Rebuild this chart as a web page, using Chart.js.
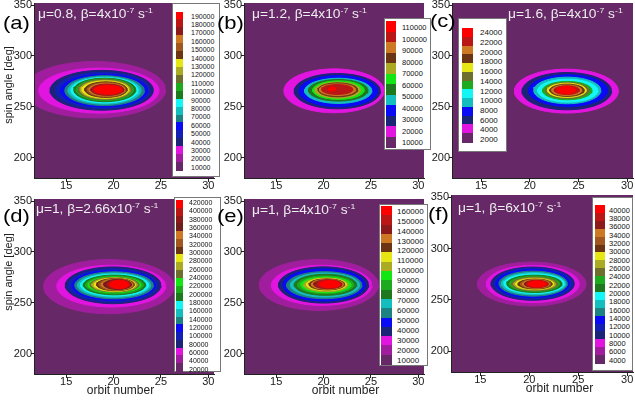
<!DOCTYPE html>
<html>
<head>
<meta charset="utf-8">
<script src="https://cdn.jsdelivr.net/npm/chart.js@4.4.0/dist/chart.umd.min.js"></script>
<style>
  body { margin: 0; background: #fff; width: 635px; height: 401px; overflow: hidden; position: relative;
         font-family: "Liberation Sans", Arial, sans-serif; }
  canvas { position: absolute; }
  .tag { position: absolute; font-size: 19px; line-height: 19px; color: #000; transform: scaleX(1.16); transform-origin: left top; z-index: 3; }
  .ttl { position: absolute; font-size: 12.5px; line-height: 14px; color: #eee; white-space: nowrap; transform: scaleX(1.1); transform-origin: left top; z-index: 3; }
  .ttl sup { font-size: 8px; line-height: 0; vertical-align: 5px; }
  .leg { position: absolute; background: #fff; border: 1px solid #777; box-sizing: border-box; z-index: 2; }
  .sw { position: absolute; }
  .lv { position: absolute; line-height: 1; color: #111; transform: translateY(-50%); white-space: nowrap; }
  .axt { position: absolute; font-size: 12px; color: #222; white-space: nowrap; z-index: 3; }
</style>
</head>
<body>
<script>
const FONT = '"Liberation Sans", Arial, sans-serif';

// contour levels shown in each legend (top to bottom)
const levelsA = [190000, 180000, 170000, 160000, 150000, 140000, 130000, 120000, 110000, 100000, 90000, 80000, 70000, 60000, 50000, 40000, 30000, 20000, 10000];
const levelsB = [110000, 100000, 90000, 80000, 70000, 60000, 50000, 40000, 30000, 20000, 10000];
const levelsC = [24000, 22000, 20000, 18000, 16000, 14000, 12000, 10000, 8000, 6000, 4000, 2000];
const levelsD = [420000, 400000, 380000, 360000, 340000, 320000, 300000, 280000, 260000, 240000, 220000, 200000, 180000, 160000, 140000, 120000, 100000, 80000, 60000, 40000, 20000];
const levelsE = [160000, 150000, 140000, 130000, 120000, 110000, 100000, 90000, 80000, 70000, 60000, 50000, 40000, 30000, 20000, 10000];
const levelsF = [40000, 38000, 36000, 34000, 32000, 30000, 28000, 26000, 24000, 22000, 20000, 18000, 16000, 14000, 12000, 10000, 8000, 6000, 4000];

// contour rings, outermost first: [orbit left, orbit right, spin angle low, spin angle high]
const ringsA = [
  [10.5, 25.5, 239.0, 294.5], [12.1, 24.8, 243.8, 288.0], [13.3, 24.2, 246.6, 285.8], [13.85, 23.9, 248.3, 283.8],
  [14.4, 23.6, 249.8, 282.0], [14.85, 23.25, 251.2, 280.5], [15.2, 22.9, 252.6, 279.5], [15.5, 22.6, 253.8, 278.8],
  [15.8, 22.35, 255.0, 278.1], [16.05, 22.1, 256.0, 277.4], [16.25, 21.9, 257.0, 276.7], [16.45, 21.75, 257.8, 276.0],
  [16.65, 21.6, 258.5, 275.3], [16.95, 21.45, 259.2, 274.5], [17.2, 21.3, 259.9, 273.7], [17.4, 21.2, 260.6, 273.0],
  [17.6, 21.1, 261.2, 272.3], [17.75, 21.0, 261.8, 271.7], [17.95, 20.9, 262.4, 271.1]
];
const ringsB = [
  [15.8, 26.4, 244.1, 287.3], [16.9, 26.0, 248.0, 282.7], [17.4, 25.7, 250.0, 280.7], [18.0, 25.1, 253.3, 278.0],
  [18.4, 24.7, 255.6, 276.8], [18.85, 24.3, 257.2, 275.5], [19.1, 23.9, 258.5, 274.2], [19.4, 23.6, 259.8, 273.5],
  [19.55, 23.4, 261.1, 272.5], [19.8, 23.1, 262.1, 271.9], [20.5, 21.3, 265.5, 269.5]
];
const ringsC = [
  [18.4, 29.1, 243.8, 287.0], [19.2, 28.4, 247.0, 283.7], [19.85, 28.0, 250.3, 281.4], [20.4, 27.3, 253.0, 279.1],
  [20.8, 27.0, 254.6, 277.1], [21.3, 26.4, 256.9, 274.9], [21.6, 26.1, 258.2, 273.9], [21.8, 25.8, 259.2, 273.2],
  [22.05, 25.6, 260.2, 272.2], [22.25, 25.35, 261.1, 271.3], [22.5, 25.1, 262.1, 270.6], [22.8, 24.7, 262.8, 270.0]
];
const ringsD = [
  [12.6, 26.4, 239.2, 292.5], [14.0, 25.5, 245.8, 286.9], [14.9, 25.0, 249.1, 285.2], [15.2, 24.7, 250.7, 283.4],
  [15.6, 24.4, 252.4, 281.8], [15.9, 24.2, 253.9, 280.4], [16.2, 23.9, 255.3, 279.2], [16.5, 23.7, 256.6, 278.2],
  [16.8, 23.4, 257.8, 277.2], [17.05, 23.15, 258.9, 276.2], [17.3, 22.9, 259.9, 275.4], [17.5, 22.7, 260.6, 274.9],
  [17.7, 22.5, 261.0, 274.5], [17.95, 22.3, 261.4, 274.1], [18.2, 22.2, 261.9, 273.8], [18.45, 22.1, 262.3, 273.5],
  [18.7, 22.0, 262.7, 273.2], [18.95, 21.9, 263.1, 272.9], [19.2, 21.8, 263.5, 272.6], [19.4, 21.7, 263.8, 272.3],
  [19.6, 21.6, 264.1, 272.0]
];
const ringsE = [
  [13.2, 25.8, 242.5, 292.5], [14.5, 25.1, 247.4, 286.9], [15.25, 24.75, 249.7, 285.3], [15.7, 24.4, 251.7, 283.3],
  [16.1, 24.05, 254.0, 280.6], [16.5, 23.8, 255.6, 279.3], [16.9, 23.5, 257.3, 278.0], [17.25, 23.2, 258.9, 276.4],
  [17.6, 22.9, 259.9, 275.4], [17.9, 22.6, 260.9, 274.4], [18.2, 22.4, 262.0, 274.0], [18.45, 22.25, 262.6, 273.5],
  [18.7, 22.1, 263.2, 273.0], [18.95, 21.95, 263.8, 272.6], [19.25, 21.85, 264.3, 272.2], [19.6, 21.75, 264.8, 271.8]
];
const ringsF = [
  [14.7, 25.8, 244.1, 286.9], [15.6, 25.1, 247.4, 283.6], [16.1, 24.6, 249.7, 282.0], [16.4, 24.4, 250.7, 281.0],
  [16.6, 24.1, 252.3, 279.7], [16.9, 23.9, 253.7, 278.0], [17.15, 23.75, 255.0, 276.7], [17.4, 23.6, 256.3, 275.4],
  [17.7, 23.35, 257.3, 274.1], [17.95, 23.1, 258.3, 273.1], [18.2, 22.9, 258.9, 272.1], [18.4, 22.7, 259.6, 271.4],
  [18.6, 22.5, 260.2, 270.8], [18.85, 22.35, 260.7, 270.3], [19.1, 22.2, 261.2, 269.9], [19.3, 22.05, 261.6, 269.5],
  [19.5, 21.95, 262.0, 269.1], [19.7, 21.85, 262.3, 268.8], [19.9, 21.75, 262.6, 268.5]
];

const muValues = ['0.8', '1.2', '1.6', '1', '1', '1'];
const betaValues = ['4', '4', '4', '2.66', '4', '6'];
const panelTags = ['(a)', '(b)', '(c)', '(d)', '(e)', '(f)'];

// tecplot-like palette
const P = {
  dpurple: '#662866', purple: '#A01E9E', magenta: '#E214E0', navy: '#1C2478', mblue: '#1420B4', blue: '#0A0AF5',
  dteal: '#1E8282', teal: '#14BEBE', cyan: '#14F5F5', dgreen: '#1E781E', green: '#1EAA1E', bgreen: '#14E614',
  dolive: '#6E6E2D', olive: '#AAAA23', yellow: '#E6E614', dbrown: '#6B3514', brown: '#A0581E', orange: '#CD7823',
  dmaroon: '#6E1E1E', maroon: '#8C1A1A', dred: '#BA1616', red: '#FF0000'
};
const colorsA = [P.dpurple, P.purple, P.magenta, P.navy, P.mblue, P.blue, P.dteal, P.teal, P.cyan, P.dgreen, P.green,
  P.dolive, P.olive, P.yellow, P.dbrown, P.brown, P.orange, P.maroon, P.dred, P.red];
const colorsB = [P.dpurple, P.magenta, P.navy, P.blue, P.teal, P.dgreen, P.bgreen, P.olive, P.dbrown, P.orange, P.dred, P.red];
const colorsC = [P.dpurple, P.magenta, P.navy, P.blue, P.teal, P.cyan, P.green, P.dolive, P.yellow, P.dbrown, P.orange, P.dred, P.red];
const colorsD = [P.dpurple, P.purple, P.magenta, P.navy, P.mblue, P.blue, P.dteal, P.teal, P.cyan, P.dgreen, P.green, P.bgreen,
  P.dolive, P.olive, P.yellow, P.dbrown, P.brown, P.orange, P.dmaroon, P.maroon, P.dred, P.red];
const colorsE = [P.dpurple, P.purple, P.magenta, P.navy, P.blue, P.dteal, P.teal, P.dgreen, P.green, P.bgreen, P.olive,
  P.yellow, P.dbrown, P.orange, P.maroon, P.dred, P.red];
const colorsF = colorsA;

// layout: plot rect [left, top, right, bottom], legend box / swatch column / label column
const panels = [
  { levels: levelsA, rings: ringsA, colors: colorsA, xMin: 11.6, plot: [34, 3, 214, 178], xH: 22,
    box: [172, 3, 48, 174], sw: [176, 7, 11.5, 170], lab: [191, 15.7, 166.7, 7], title: [38, 7], tag: [3, 12.7] },
  { levels: levelsB, rings: ringsB, colors: colorsB, xMin: 11.6, plot: [244, 3, 424, 178], xH: 22,
    box: [384, 18, 47, 132], sw: [386, 10, 21, 147], lab: [402, 28.3, 143.3, 7.5], title: [252, 7], tag: [216.7, 12.7] },
  { levels: levelsC, rings: ringsC, colors: colorsC, xMin: 12, plot: [452, 3, 633, 178], xH: 22,
    box: [458, 18, 49, 134], sw: [462, 11, 28, 142], lab: [480, 33.3, 140, 8], title: [508, 7], tag: [430, 11] },
  { levels: levelsD, rings: ringsD, colors: colorsD, xMin: 11.6, plot: [34, 199, 214, 374], xH: 27,
    box: [174, 197, 47, 175], sw: [176, 7, 200, 371], lab: [189, 202, 368.5, 7], title: [36, 202], tag: [3, 206] },
  { levels: levelsE, rings: ringsE, colors: colorsE, xMin: 11.6, plot: [244, 199, 424, 374], xH: 27,
    box: [379, 204, 49, 162], sw: [381, 11, 206, 364], lab: [397, 211.7, 360.7, 8], title: [252, 202.7], tag: [216.7, 206] },
  { levels: levelsF, rings: ringsF, colors: colorsF, xMin: 12, plot: [451, 195, 633, 372], xH: 29,
    box: [592, 197, 41, 174], sw: [595, 10, 205, 363], lab: [609, 210.7, 360.7, 7.5], title: [458, 201], tag: [428, 204.4] }
];

function ringPoints(r) {
  const cx = (r[0] + r[1]) / 2, cy = (r[2] + r[3]) / 2;
  const rx = (r[1] - r[0]) / 2, ry = (r[3] - r[2]) / 2;
  const pts = [];
  for (let k = 0; k <= 48; k++) {
    const t = 2 * Math.PI * k / 48;
    pts.push({ x: cx + rx * Math.cos(t), y: cy + ry * Math.sin(t) });
  }
  return pts;
}

const plotBg = {
  id: 'plotBg',
  beforeDatasetsDraw(chart, args, opts) {
    const { ctx, chartArea: a } = chart;
    ctx.save();
    ctx.fillStyle = opts.color;
    ctx.fillRect(a.left, a.top, a.width, a.height);
    ctx.restore();
  }
};

function addDiv(cls, html, left, top) {
  const d = document.createElement('div');
  d.className = cls;
  d.innerHTML = html;
  d.style.left = left + 'px';
  d.style.top = top + 'px';
  document.body.appendChild(d);
  return d;
}

panels.forEach((p, n) => {
  const [L, T, R, B] = p.plot;
  const cv = document.createElement('canvas');
  cv.width = R - L + 34 + 8;
  cv.height = B - T + 8 + p.xH;
  cv.style.left = (L - 34) + 'px';
  cv.style.top = (T - 8) + 'px';
  document.body.appendChild(cv);

  new Chart(cv, {
    type: 'scatter',
    data: {
      datasets: p.rings.map((r, i) => ({
        data: ringPoints(r),
        showLine: true,
        pointRadius: 0,
        borderWidth: 1,
        borderColor: p.colors[i + 1],
        backgroundColor: p.colors[i + 1],
        fill: 'shape',
        tension: 0,
        order: p.rings.length - i
      }))
    },
    options: {
      responsive: false,
      animation: false,
      devicePixelRatio: 1,
      events: [],
      layout: { padding: { top: 8, right: 8, left: 0, bottom: 0 } },
      plugins: {
        legend: { display: false },
        tooltip: { enabled: false },
        plotBg: { color: p.colors[0] }
      },
      scales: {
        x: {
          type: 'linear', min: p.xMin, max: 30.6,
          ticks: { stepSize: 5, includeBounds: false, padding: -3, color: '#1a1a1a', font: { family: FONT, size: 11 } },
          grid: { drawOnChartArea: false, tickLength: 4, color: '#222' },
          border: { color: '#222', z: 1 },
          afterFit(s) { s.height = p.xH; }
        },
        y: {
          type: 'linear', min: 180, max: 352,
          ticks: { stepSize: 50, includeBounds: false, padding: -1, color: '#1a1a1a', font: { family: FONT, size: 11 } },
          grid: { drawOnChartArea: false, tickLength: 3, color: '#222' },
          border: { color: '#222', z: 1 },
          afterFit(s) { s.width = 34; }
        }
      }
    },
    plugins: [plotBg]
  });

  // legend box
  const box = addDiv('leg', '', p.box[0], p.box[1]);
  box.style.width = p.box[2] + 'px';
  box.style.height = p.box[3] + 'px';
  const nc = p.colors.length;
  const sh = (p.sw[3] - p.sw[2]) / nc;
  for (let k = 0; k < nc; k++) {
    const s = document.createElement('div');
    s.className = 'sw';
    s.style.left = (p.sw[0] - p.box[0] - 1) + 'px';
    s.style.width = p.sw[1] + 'px';
    s.style.top = (p.sw[2] - p.box[1] - 1 + k * sh) + 'px';
    s.style.height = (sh + 0.6) + 'px';
    s.style.background = p.colors[nc - 1 - k];
    box.appendChild(s);
  }
  const nl = p.levels.length;
  p.levels.forEach((v, k) => {
    const t = document.createElement('div');
    t.className = 'lv';
    t.textContent = v;
    t.style.fontSize = p.lab[3] + 'px';
    t.style.left = (p.lab[0] - p.box[0] - 1) + 'px';
    t.style.top = (p.lab[1] - p.box[1] - 1 + k * (p.lab[2] - p.lab[1]) / (nl - 1)) + 'px';
    box.appendChild(t);
  });

  addDiv('ttl', '\u03bc=' + muValues[n] + ', \u03b2=' + betaValues[n] + 'x10<sup>-7</sup> s<sup>-1</sup>', p.title[0], p.title[1]);
  addDiv('tag', panelTags[n], p.tag[0], p.tag[1]);
});

// axis titles
function axisTitle(text, cx, cy, vertical, size) {
  const d = addDiv('axt', text, 0, 0);
  d.style.fontSize = size + 'px';
  d.style.left = cx + 'px';
  d.style.top = cy + 'px';
  d.style.transform = 'translate(-50%, -50%)' + (vertical ? ' rotate(-90deg)' : '');
}
axisTitle('spin angle [deg]', 7.5, 85, true, 11);
axisTitle('spin angle [deg]', 7.5, 271.5, true, 11);
axisTitle('orbit number', 120.5, 390, false, 12);
axisTitle('orbit number', 345.5, 389.5, false, 12);
axisTitle('orbit number', 559.5, 388, false, 12);
</script>
</body>
</html>
